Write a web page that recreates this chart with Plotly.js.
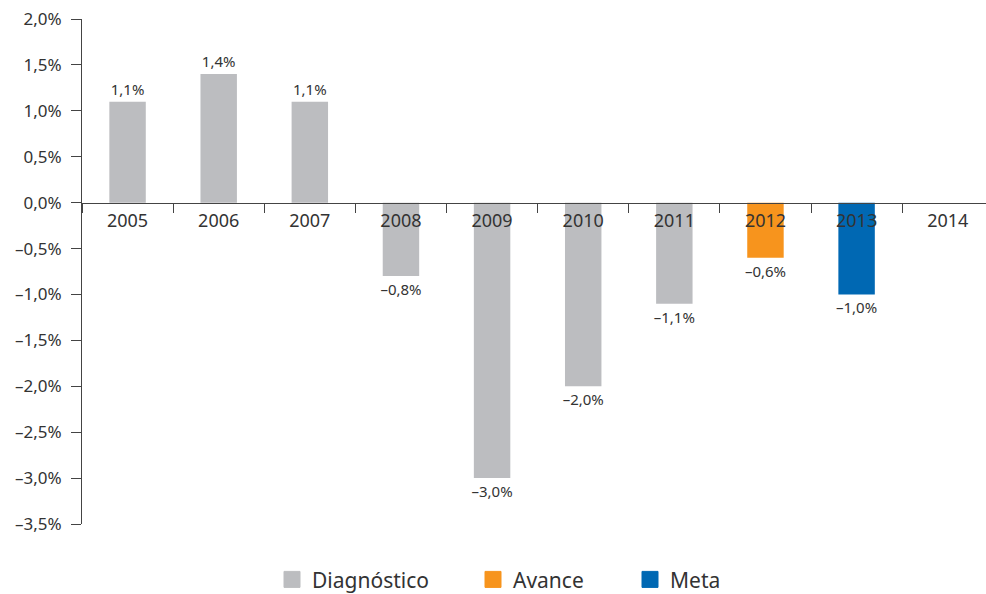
<!DOCTYPE html>
<html>
<head>
<meta charset="utf-8">
<script src="https://cdn.plot.ly/plotly-3.0.1.min.js"></script>
<style>html,body{margin:0;padding:0;background:#fff;}#chart{width:986px;height:594px;}</style>
</head>
<body>
<div id="chart"></div>
<script>
const years = ['2005','2006','2007','2008','2009','2010','2011','2012','2013','2014'];
const diagYears = ['2005','2006','2007','2008','2009','2010','2011'];
const diagValues = [1.1, 1.4, 1.1, -0.8, -3.0, -2.0, -1.1];
const avanceYears = ['2012'];
const avanceValues = [-0.6];
const metaYears = ['2013'];
const metaValues = [-1.0];
const yTickVals = [2.0, 1.5, 1.0, 0.5, 0.0, -0.5, -1.0, -1.5, -2.0, -2.5, -3.0, -3.5];
const yTickText = ['2,0%','1,5%','1,0%','0,5%','0,0%','–0,5%','–1,0%','–1,5%','–2,0%','–2,5%','–3,0%','–3,5%'];
const seriesNames = ['Diagnóstico', 'Avance', 'Meta'];
const colors = ['#BCBDC0', '#F7941D', '#0068B3'];

const FONT = 'Noto Sans, Open Sans, sans-serif';
const TXT = '#333333';
function fmt(v) {
  const s = Math.abs(v).toFixed(1).replace('.', ',') + '%';
  return v < 0 ? '–' + s : s;
}
function barTrace(xs, ys, color) {
  return {
    type: 'bar', x: xs, y: ys, width: 0.4,
    marker: {color: color},
    text: ys.map(fmt), textposition: 'outside', cliponaxis: false,
    constraintext: 'none',
    textfont: {family: FONT, size: 15, color: TXT},
    showlegend: false, hoverinfo: 'skip'
  };
}
function legendTrace(name, color, leg) {
  return {
    type: 'scatter', mode: 'markers', x: [null], y: [null], name: name,
    marker: {symbol: 'square', size: 16, color: color, line: {width: 1, color: color}},
    showlegend: true, legend: leg
  };
}
const data = [
  barTrace(diagYears, diagValues, colors[0]),
  barTrace(avanceYears, avanceValues, colors[1]),
  barTrace(metaYears, metaValues, colors[2]),
  legendTrace(seriesNames[0], colors[0], 'legend'),
  legendTrace(seriesNames[1], colors[1], 'legend2'),
  legendTrace(seriesNames[2], colors[2], 'legend3')
];
const legBase = {orientation: 'h', yanchor: 'middle', xanchor: 'left',
  xref: 'container', yref: 'container', y: 0.024,
  font: {family: FONT, size: 21, color: TXT}, bgcolor: 'rgba(0,0,0,0)'};
const layout = {
  width: 986, height: 594,
  margin: {l: 82, r: 0, t: 19, b: 70, autoexpand: false},
  paper_bgcolor: '#fff', plot_bgcolor: '#fff',
  barmode: 'overlay',
  font: {family: FONT, color: TXT},
  xaxis: {
    type: 'category', categoryorder: 'array', categoryarray: years,
    range: [-0.5, 9.42], anchor: 'free', position: 3.5/5.5,
    showline: true, linecolor: '#444', linewidth: 1,
    ticks: 'outside', tickson: 'boundaries', ticklen: 9, tickcolor: '#444',
    ticklabelstandoff: 2,
    showgrid: false, zeroline: false,
    tickfont: {family: FONT, size: 18, color: TXT}
  },
  yaxis: {
    range: [-3.5, 2.0], tickvals: yTickVals, ticktext: yTickText,
    showline: true, linecolor: '#444', linewidth: 1,
    ticks: 'outside', ticklen: 10, tickcolor: '#444',
    ticklabelstandoff: 6,
    showgrid: false, zeroline: false,
    tickfont: {family: FONT, size: 17, color: TXT}
  },
  legend: Object.assign({}, legBase, {x: (272)/986}),
  legend2: Object.assign({}, legBase, {x: (473)/986}),
  legend3: Object.assign({}, legBase, {x: (630)/986}),
  showlegend: true
};
Plotly.newPlot('chart', data, layout, {displayModeBar: false, staticPlot: true});
</script>
</body>
</html>
